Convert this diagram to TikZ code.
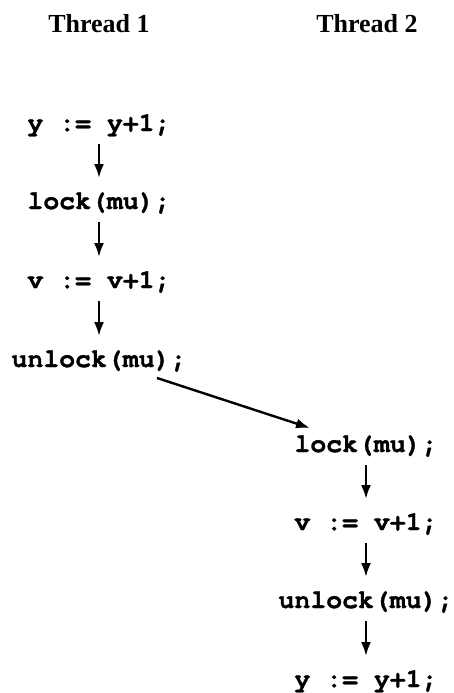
\documentclass[tikz,border=0pt]{standalone}
\usepackage{fontspec}
\setmainfont{Liberation Serif}
\setmonofont[BoldFeatures={FakeBold=1.2}]{TeX Gyre Cursor}
\usetikzlibrary{arrows.meta}
\tikzset{
  hdr/.style={anchor=base, inner sep=0pt, font=\fontsize{26pt}{30pt}\selectfont\bfseries},
  code/.style={anchor=base, inner sep=0pt, font=\fontsize{26.5pt}{30pt}\selectfont\ttfamily\bfseries},
  flow/.style={line width=2.4pt, -{Latex[length=14pt,width=10pt]}}
}
\begin{document}
\begin{tikzpicture}[x=1pt,y=1pt]
\useasboundingbox (0,0) rectangle (454,-693);
\node[hdr] (h1) at (99,-33) {Thread 1};
\node[hdr] (h2) at (367,-33) {Thread 2};
% thread 1
\node[code] (a1) at (99,-131) {y := y+1;};
\node[code] (a2) at (99,-209) {lock(mu);};
\node[code] (a3) at (99,-288) {v := v+1;};
\node[code] (a4) at (99,-367) {unlock(mu);};
% thread 2
\node[code] (b1) at (366,-452) {lock(mu);};
\node[code] (b2) at (366,-530) {v := v+1;};
\node[code] (b3) at (366,-608) {unlock(mu);};
\node[code] (b4) at (366,-687) {y := y+1;};
\foreach \s/\t in {a1/a2,a2/a3,a3/a4,b1/b2,b2/b3,b3/b4}{
  \draw[flow] ([yshift=-13pt]\s.base) -- ([yshift=31pt]\t.base);
}
\coordinate (d1) at (157,-378);
\coordinate (d2) at (310,-428);
\draw[flow] (d1) -- (d2);
\end{tikzpicture}
\end{document}
